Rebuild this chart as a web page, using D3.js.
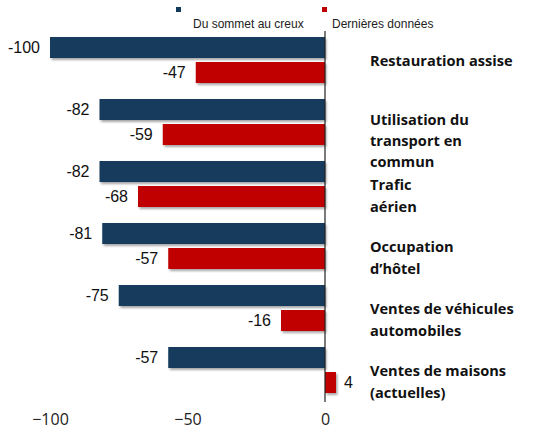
<!DOCTYPE html>
<html>
<head>
<meta charset="utf-8">
<script src="https://cdn.jsdelivr.net/npm/d3@7"></script>
<style>
  body { margin: 0; background: #fff; }
  svg { display: block; }
</style>
</head>
<body>
<script>
// categories, one label per group (split into lines)
const categories = [
  ['Restauration assise'],
  ['Utilisation du', 'transport en', 'commun'],
  ['Trafic', 'aérien'],
  ['Occupation', 'd’hôtel'],
  ['Ventes de véhicules', 'automobiles'],
  ['Ventes de maisons', '(actuelles)']
];
const peakToTrough = [-100, -82, -82, -81, -75, -57];
const latest = [-47, -59, -68, -57, -16, 4];
const seriesNames = ['Du sommet au creux', 'Dernières données'];
const xTicks = [-100, -50, 0];

const colors = ['#123a5b', '#c00000'];
const width = 549, height = 440;

const svg = d3.select('body').append('svg')
  .attr('width', width)
  .attr('height', height);

// soft drop shadow under the bars
const defs = svg.append('defs');
defs.append('filter')
  .attr('id', 'shadow')
  .attr('x', '-10%').attr('y', '-30%')
  .attr('width', '130%').attr('height', '180%')
  .append('feDropShadow')
  .attr('dx', 1.5).attr('dy', 2)
  .attr('stdDeviation', 1.2)
  .attr('flood-color', '#000')
  .attr('flood-opacity', 0.35);

const x = d3.scaleLinear().domain([-100, 0]).range([50, 325]);

const y = d3.scaleBand()
  .domain(d3.range(categories.length))
  .range([29, 401])
  .paddingInner(0.258)
  .paddingOuter(0.129);

const ySub = d3.scaleBand()
  .domain([0, 1])
  .range([0, y.bandwidth()])
  .paddingInner(0.16);

const data = categories.map((c, i) => ({
  i,
  lines: c,
  values: [peakToTrough[i], latest[i]]
}));

// bars
const groups = svg.append('g').selectAll('g')
  .data(data)
  .join('g')
  .attr('transform', d => `translate(0,${y(d.i)})`);

groups.selectAll('rect')
  .data(d => d.values.map((v, s) => ({ v, s })))
  .join('rect')
  .attr('x', d => x(Math.min(0, d.v)))
  .attr('width', d => Math.abs(x(d.v) - x(0)))
  .attr('y', d => ySub(d.s))
  .attr('height', ySub.bandwidth())
  .attr('fill', d => colors[d.s])
  .attr('filter', 'url(#shadow)');

// value labels
groups.selectAll('text.val')
  .data(d => d.values.map((v, s) => ({ v, s })))
  .join('text')
  .attr('class', 'val')
  .attr('x', d => d.v < 0 ? x(d.v) - 10 : x(d.v) + 8)
  .attr('y', d => ySub(d.s) + ySub.bandwidth() / 2)
  .attr('dy', '0.36em')
  .attr('text-anchor', d => d.v < 0 ? 'end' : 'start')
  .style('font-family', '"Liberation Sans", Arial, sans-serif')
  .style('font-size', '16px')
  .style('fill', '#111')
  .text(d => d.v);

// zero line
svg.append('line')
  .attr('x1', x(0)).attr('x2', x(0))
  .attr('y1', 31).attr('y2', 402)
  .attr('stroke', '#222')
  .attr('stroke-width', 1.2);

// category labels on the right (3-line label packed a little tighter)
const lineGap = d => d.lines.length > 2 ? 21 : 22;
const cat = svg.append('g').selectAll('text')
  .data(data)
  .join('text')
  .attr('x', 370)
  .attr('y', d => y(d.i) + y.bandwidth() / 2 + 6 - (d.lines.length > 2 ? 3 : 0))
  .style('font-family', '"Open Sans", sans-serif')
  .style('font-weight', 'bold')
  .style('font-size', '14.6px')
  .style('fill', '#111');

cat.selectAll('tspan')
  .data(d => d.lines.map(t => ({ t, gap: lineGap(d) })))
  .join('tspan')
  .attr('x', 370)
  .attr('dy', (d, k) => k === 0 ? 0 : d.gap)
  .text(d => d.t);

// x axis, labels only
const axis = svg.append('g')
  .attr('transform', 'translate(0,414)')
  .call(d3.axisBottom(x).tickValues(xTicks).tickSize(0).tickPadding(0));
axis.select('.domain').remove();
axis.selectAll('text')
  .attr('dy', '0.71em')
  .style('font-family', '"Open Sans", sans-serif')
  .style('font-size', '16px')
  .style('fill', '#222');

// legend
const legendX = [176, 322];
const legend = svg.append('g').selectAll('g')
  .data(seriesNames)
  .join('g')
  .attr('transform', (d, i) => `translate(${legendX[i]},0)`);
legend.append('rect')
  .attr('x', 0).attr('y', 7)
  .attr('width', 5).attr('height', 5)
  .attr('fill', (d, i) => colors[i]);
legend.append('text')
  .attr('x', (d, i) => i === 0 ? 17 : 10)
  .attr('y', 28)
  .style('font-family', '"Liberation Sans", Arial, sans-serif')
  .style('font-size', '12px')
  .style('fill', '#222')
  .text(d => d);
</script>
</body>
</html>
